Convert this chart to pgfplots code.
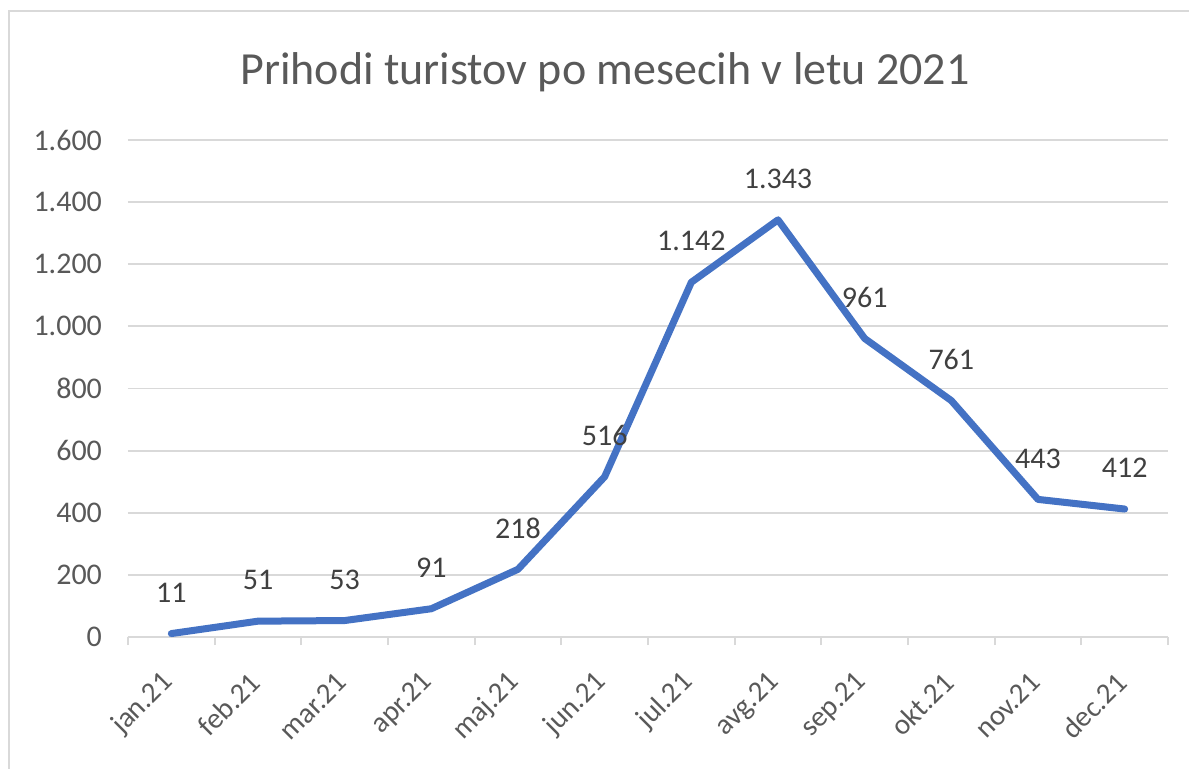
\documentclass[border=0pt]{standalone}
\usepackage{pgfplots}
\pgfplotsset{compat=1.18}
\usepackage{pgfplotstable}
\usepackage{fontspec}
\setmainfont{Carlito}
\definecolor{linec}{HTML}{4472C4}
\definecolor{txt}{HTML}{595959}
\definecolor{lbl}{HTML}{404040}
\definecolor{grd}{HTML}{D9D9D9}
\pgfplotstableread{
x y lab
0 11 11
1 51 51
2 53 53
3 91 91
4 218 218
5 516 516
6 1142 1.142
7 1343 1.343
8 961 961
9 761 761
10 443 443
11 412 412
}\datatable
\begin{document}
\begin{tikzpicture}[x=1pt,y=1pt]
\useasboundingbox (0,0) rectangle (594.5,384);
\fill[white] (0,0) rectangle (594.5,384);
\draw[grd, line width=1pt] (4.5,-20) -- (4.5,378.5) -- (620,378.5);
\node[txt, font=\fontsize{23}{28}\selectfont] at (302.5,348) {Prihodi turistov po mesecih v letu 2021};
\begin{axis}[
  at={(64pt,65.5pt)}, anchor=south west,
  scale only axis, width=520pt, height=248.5pt,
  xmin=-0.5, xmax=11.5, ymin=0, ymax=1600,
  ytick={0,200,...,1600},
  xtick={0,...,11},
  xticklabels={jan.21,feb.21,mar.21,apr.21,maj.21,jun.21,jul.21,avg.21,sep.21,okt.21,nov.21,dec.21},
  minor xtick={-0.5,0.5,...,11.5},
  major tick length=0pt,
  minor tick length=4pt,
  tick align=outside,
  minor tick style={grd, line width=1pt},
  axis x line*=bottom, axis y line*=left,
  y axis line style={draw=none},
  x axis line style={grd, line width=1.2pt},
  ymajorgrids,
  grid style={grd, line width=0.9pt},
  scaled y ticks=false,
  /pgf/number format/.cd, 1000 sep={.}, assume math mode=true, /pgfplots/.cd,
  tick label style={font=\fontsize{15}{18}\selectfont, color=txt},
  yticklabel style={xshift=-9.5pt},
  xticklabel style={xshift=1pt, yshift=-18pt, rotate=45, anchor=east, font=\fontsize{14.5}{17}\selectfont},
  clip=false,
  point meta=explicit symbolic,
  nodes near coords,
  every node near coord/.append style={font=\fontsize{15}{18}\selectfont, color=lbl, anchor=center, yshift=20.5pt},
]
\addplot[linec, line width=3.5pt, line join=round, line cap=round, mark=none]
  table[x=x, y=y, meta=lab] {\datatable};
\end{axis}
\end{tikzpicture}
\end{document}
